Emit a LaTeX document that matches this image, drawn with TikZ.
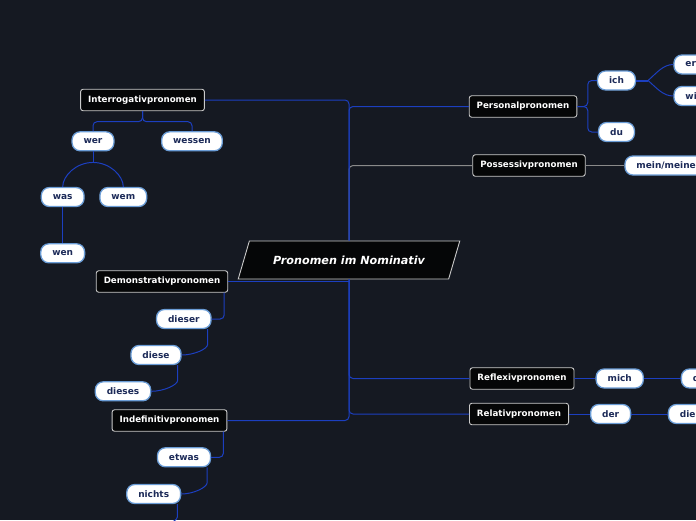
\documentclass[tikz,border=0pt]{standalone}
\usepackage{fontspec}
\newfontfamily\mapfont{DejaVu Sans}
\usetikzlibrary{positioning,shapes.geometric}

\definecolor{mapbg}{HTML}{151922}
\definecolor{branchblue}{HTML}{1C3FC0}
\definecolor{possgray}{HTML}{8A8A8A}
\definecolor{topicfill}{HTML}{050607}
\definecolor{topicline}{HTML}{CACACA}
\definecolor{leafline}{HTML}{6A9CD6}
\definecolor{leaftext}{HTML}{1C2A58}

\begin{document}
\begin{tikzpicture}[
  x=1pt,y=-1pt,
  rootbox/.style={trapezium,trapezium left angle=60,trapezium right angle=120,
    trapezium stretches=true,minimum width=222pt,minimum height=38pt,
    draw=topicline,fill=topicfill,line width=0.9pt,text=white,
    font=\mapfont\bfseries\itshape\fontsize{11.2}{13}\selectfont},
  topic/.style={draw=topicline,fill=topicfill,line width=0.9pt,rounded corners=2.5pt,
    text=white,inner xsep=7.5pt,minimum height=21.5pt,
    font=\mapfont\bfseries\fontsize{8.7}{10}\selectfont},
  leaf/.style={draw=leafline,fill=white,line width=1.3pt,rounded corners=8pt,
    text=leaftext,inner xsep=11.5pt,minimum height=19pt,
    font=\mapfont\bfseries\fontsize{9}{11}\selectfont},
  branch/.style={draw=branchblue,line width=1pt,rounded corners=4pt},
  possline/.style={draw=possgray,line width=1pt,rounded corners=4pt}
]
\useasboundingbox (0,0) rectangle (696,520);
\clip (0,0) rectangle (696,520);
\fill[mapbg] (0,0) rectangle (696,520);

% central topic
\node[rootbox] (root) at (349,260) {Pronomen im Nominativ};

% main topics
\node[topic] (interrog) at (142.5,100) {Interrogativpronomen};
\node[topic] (demonstr) at (162,281.5) {Demonstrativpronomen};
\node[topic] (indef) at (169.5,420.5) {Indefinitivpronomen};
\node[topic] (personal) at (523,106.5) {Personalpronomen};
\node[topic] (possess) at (529,165.5) {Possessivpronomen};
\node[topic] (reflex) at (522,378.5) {Reflexivpronomen};
\node[topic] (relativ) at (519,414) {Relativpronomen};

% leaves, left side
\node[leaf] (wer) at (93,141.3) {wer};
\node[leaf] (wessen) at (192,141.3) {wessen};
\node[leaf] (was) at (62.7,197) {was};
\node[leaf] (wem) at (123.3,197) {wem};
\node[leaf,below=36pt of was] (wen) {wen};
\node[leaf] (dieser) at (183.8,319) {dieser};
\node[leaf] (diese) at (156,355) {diese};
\node[leaf] (dieses) at (123,391.3) {dieses};
\node[leaf] (etwas) at (184,457.3) {etwas};
\node[leaf] (nichts) at (153.7,494) {nichts};
\coordinate (offleaf) at (146,528);

% leaves, right side
\node[leaf] (ich) at (616.5,80.5) {ich};
\node[leaf] (du) at (616.5,132) {du};
\node[leaf,anchor=west] (er) at (673.3,64.5) {er};
\node[leaf,anchor=west] (wir) at (673.3,96) {wir};
\node[leaf,anchor=west] (mein) at (624.3,165.5) {mein/meine};
\node[leaf,right=21pt of reflex] (mich) {mich};
\node[leaf,anchor=west] (dich) at (680.7,378.5) {dich};
\node[leaf,right=21pt of relativ] (der) {der};
\node[leaf,anchor=west] (die) at (667.7,414) {die};

% trunk
\draw[possline] (root.north) -- (root.north |- possess.west) -- (possess.west);
\draw[branch] (root.north) -- (root.north |- personal.west) -- (personal.west);
\draw[branch] (root.north) -- (root.north |- interrog.east) -- (interrog.east);
\draw[branch] (demonstr.east) -- (demonstr.east -| root.center);
\draw[branch] (root.center |- root.south) -- (root.center |- indef.east) -- (indef.east);
\draw[branch] (root.center |- root.south) -- (root.center |- reflex.west) -- (reflex.west);
\draw[branch] (root.center |- root.south) -- (root.center |- relativ.west) -- (relativ.west);

% Interrogativpronomen
\draw[branch] (interrog.south) -- ++(0,10.5) -| (wer.north);
\draw[branch] (interrog.south) -- ++(0,10.5) -| (wessen.north);
\draw[branch] (wer.south) -- ++(0,11) coordinate (werjoin);
\draw[branch] (werjoin) .. controls +(-17,0) and +(0,-11) .. (was.north);
\draw[branch] (werjoin) .. controls +(17,0) and +(0,-11) .. (wem.north);
\draw[branch] (was.south) -- (wen.north);

% Demonstrativpronomen
\draw[branch] ([xshift=-4pt]demonstr.south east) |- (dieser.east);
\draw[branch] ([xshift=-4pt]dieser.south east) -- ++(0,11) .. controls +(0,9) and +(12,0) .. (diese.east);
\draw[branch] ([xshift=-4pt]diese.south east) -- ++(0,11) .. controls +(0,9) and +(12,0) .. (dieses.east);

% Indefinitivpronomen
\draw[branch] ([xshift=-4pt]indef.south east) |- (etwas.east);
\draw[branch] ([xshift=-4pt]etwas.south east) -- ++(0,11) .. controls +(0,9) and +(12,0) .. (nichts.east);
\draw[branch] ([xshift=-4pt]nichts.south east) -- ++(0,9) .. controls +(0,9) and +(12,0) .. (offleaf);

% Personalpronomen
\draw[branch] (personal.east) -- ++(10.5,0) |- (ich.west);
\draw[branch] (personal.east) -- ++(10.5,0) |- (du.west);
\draw[branch,line width=2pt] (ich.east) -- ++(12,0) coordinate (ichjoin);
\draw[branch] (ichjoin) .. controls +(9,-8) and +(-10,0) .. (er.west);
\draw[branch] (ichjoin) .. controls +(9,8) and +(-10,0) .. (wir.west);

% Possessivpronomen
\draw[possline] (possess.east) -- (mein.west);

% Reflexiv- und Relativpronomen
\draw[branch] (reflex.east) -- (mich.west);
\draw[branch] (mich.east) -- (dich.west);
\draw[branch] (relativ.east) -- (der.west);
\draw[branch] (der.east) -- (die.west);
\end{tikzpicture}
\end{document}
